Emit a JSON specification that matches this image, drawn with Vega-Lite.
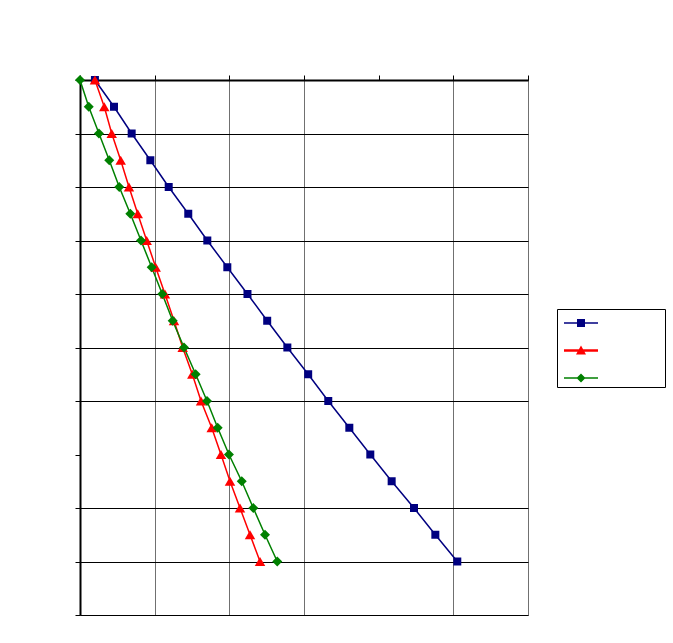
{
  "$schema": "https://vega.github.io/schema/vega-lite/v6.json",
  "autosize": "none",
  "padding": {"left": 80, "top": 80, "right": 145, "bottom": 28},
  "width": 448,
  "height": 535,
  "background": "white",
  "config": {"view": {"stroke": "#808080", "strokeWidth": 1}},
  "datasets": {
    "rows": [
      {"s": "A", "y": 0, "x": 0.20}, {"s": "A", "y": 0.5, "x": 0.455}, {"s": "A", "y": 1, "x": 0.692}, {"s": "A", "y": 1.5, "x": 0.942},
      {"s": "A", "y": 2, "x": 1.188}, {"s": "A", "y": 2.5, "x": 1.45}, {"s": "A", "y": 3, "x": 1.705}, {"s": "A", "y": 3.5, "x": 1.973},
      {"s": "A", "y": 4, "x": 2.243}, {"s": "A", "y": 4.5, "x": 2.507}, {"s": "A", "y": 5, "x": 2.777}, {"s": "A", "y": 5.5, "x": 3.056},
      {"s": "A", "y": 6, "x": 3.325}, {"s": "A", "y": 6.5, "x": 3.607}, {"s": "A", "y": 7, "x": 3.888}, {"s": "A", "y": 7.5, "x": 4.174},
      {"s": "A", "y": 8, "x": 4.473}, {"s": "A", "y": 8.5, "x": 4.759}, {"s": "A", "y": 9, "x": 5.053},
      {"s": "B", "y": 0, "x": 0.20}, {"s": "B", "y": 0.5, "x": 0.325}, {"s": "B", "y": 1, "x": 0.425}, {"s": "B", "y": 1.5, "x": 0.545},
      {"s": "B", "y": 2, "x": 0.656}, {"s": "B", "y": 2.5, "x": 0.773}, {"s": "B", "y": 3, "x": 0.893}, {"s": "B", "y": 3.5, "x": 1.014},
      {"s": "B", "y": 4, "x": 1.138}, {"s": "B", "y": 4.5, "x": 1.259}, {"s": "B", "y": 5, "x": 1.375}, {"s": "B", "y": 5.5, "x": 1.504},
      {"s": "B", "y": 6, "x": 1.621}, {"s": "B", "y": 6.5, "x": 1.764}, {"s": "B", "y": 7, "x": 1.888}, {"s": "B", "y": 7.5, "x": 2.009},
      {"s": "B", "y": 8, "x": 2.143}, {"s": "B", "y": 8.5, "x": 2.277}, {"s": "B", "y": 9, "x": 2.411},
      {"s": "C", "y": 0, "x": 0.0}, {"s": "C", "y": 0.5, "x": 0.117}, {"s": "C", "y": 1, "x": 0.254}, {"s": "C", "y": 1.5, "x": 0.392},
      {"s": "C", "y": 2, "x": 0.526}, {"s": "C", "y": 2.5, "x": 0.674}, {"s": "C", "y": 3, "x": 0.817}, {"s": "C", "y": 3.5, "x": 0.96},
      {"s": "C", "y": 4, "x": 1.102}, {"s": "C", "y": 4.5, "x": 1.241}, {"s": "C", "y": 5, "x": 1.393}, {"s": "C", "y": 5.5, "x": 1.549},
      {"s": "C", "y": 6, "x": 1.701}, {"s": "C", "y": 6.5, "x": 1.844}, {"s": "C", "y": 7, "x": 1.995}, {"s": "C", "y": 7.5, "x": 2.166},
      {"s": "C", "y": 8, "x": 2.321}, {"s": "C", "y": 8.5, "x": 2.478}, {"s": "C", "y": 9, "x": 2.642}
    ]
  },
  "data": {"name": "rows"},
  "encoding": {
    "x": {
      "field": "x", "type": "quantitative",
      "scale": {"domain": [0, 6], "nice": false, "zero": false},
      "axis": {
        "orient": "top", "values": [0, 1, 2, 3, 4, 5, 6], "labels": false, "title": null,
        "domain": true, "domainColor": "#000000", "domainWidth": 2,
        "ticks": true, "tickColor": "#000000", "tickSize": 5, "tickWidth": 1,
        "grid": true, "gridColor": "#707070", "gridWidth": 1,
        "gridOpacity": {"condition": {"test": "datum.value === 4", "value": 0}, "value": 1}
      }
    },
    "y": {
      "field": "y", "type": "quantitative",
      "scale": {"domain": [0, 10], "reverse": true, "nice": false, "zero": false},
      "axis": {
        "orient": "left", "values": [0, 1, 2, 3, 4, 5, 6, 7, 8, 9, 10], "labels": false, "title": null,
        "domain": true, "domainColor": "#000000", "domainWidth": 2,
        "ticks": true, "tickColor": "#000000", "tickSize": 5, "tickWidth": 1,
        "grid": true, "gridColor": "#000000", "gridWidth": 1,
        "gridOpacity": {"condition": {"test": "datum.value === 7", "value": 0}, "value": 1}
      }
    },
    "color": {
      "field": "s", "type": "nominal",
      "scale": {"domain": ["A", "B", "C"], "range": ["#000080", "#FF0000", "#008000"]},
      "legend": {
        "orient": "none", "legendX": 477, "legendY": 229,
        "title": null, "labelExpr": "''", "labelOffset": 80,
        "padding": 4, "symbolSize": 400, "rowPadding": 12.5,
        "strokeColor": "#000000", "fillColor": "#ffffff",
        "encode": {
          "symbols": {
            "update": {
              "shape": {"signal": "datum.value === 'A' ? 'M-0.7,-0.07H2.7V0.07H-0.7Z M0.6,-0.4H1.4V0.4H0.6Z' : datum.value === 'B' ? 'M-0.7,-0.12H2.7V0.12H-0.7Z M1,-0.5L1.5,0.4H0.5Z' : 'M-0.7,-0.07H2.7V0.07H-0.7Z M1,-0.45L1.45,0L1,0.45L0.55,0Z'"},
              "fill": {"scale": "color", "field": "value"},
              "fillOpacity": {"value": 1},
              "strokeWidth": {"value": 0},
              "opacity": {"value": 1}
            }
          }
        }
      }
    }
  },
  "layer": [
    {
      "mark": {"type": "line", "strokeWidth": 1.5},
      "encoding": {"order": {"field": "y", "type": "quantitative"}}
    },
    {
      "transform": [{"filter": "datum.s === 'A'"}],
      "mark": {"type": "point", "filled": true, "opacity": 1, "shape": "square", "size": 64}
    },
    {
      "transform": [{"filter": "datum.s === 'B'"}],
      "mark": {"type": "point", "filled": true, "opacity": 1, "shape": "triangle-up", "size": 110}
    },
    {
      "transform": [{"filter": "datum.s === 'C'"}],
      "mark": {"type": "point", "filled": true, "opacity": 1, "shape": "diamond", "size": 100}
    }
  ]
}
